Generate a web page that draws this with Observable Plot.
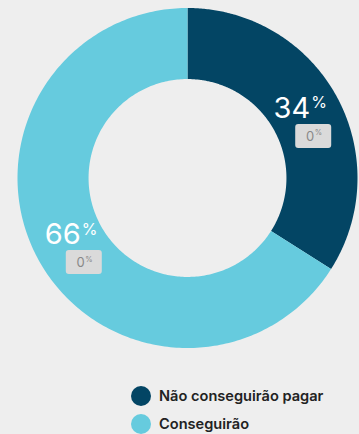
<!DOCTYPE html>
<html><head><meta charset="utf-8">
<script src="https://cdn.jsdelivr.net/npm/d3@7"></script>
<script src="https://cdn.jsdelivr.net/npm/@observablehq/plot@0.6"></script>
<style>
html,body{margin:0;padding:0;background:#eeeeee;}
body{width:359px;height:434px;overflow:hidden;font-family:Inter,Lato,sans-serif;position:relative;}
#chart{position:absolute;left:0;top:0;}
#legend{position:absolute;left:131px;top:382px;}
.item{display:flex;align-items:center;height:28px;font-weight:600;font-size:14.6px;color:#222;}
.sw{width:20px;height:20px;border-radius:50%;margin-right:8px;flex:none;}
</style></head><body><div id="chart"></div><div id="legend"></div>
<script>
const categories = ["Não conseguirão pagar", "Conseguirão"];
const values = [34, 66];
const badgeValues = [0, 0];
const colors = ["#034564", "#66cbde"];

const data = categories.map((c, i) => ({cat: c, value: values[i], badge: badgeValues[i]}));
const innerRatio = 0.582;
const labelRatio = 0.77;
const arcs = d3.pie().sort(null).value(d => d.value)(data);

const ring = arcs.flatMap(a => {
  const pts = [];
  const n = 240;
  for (let k = 0; k <= n; k++) {
    const t = a.startAngle + (a.endAngle - a.startAngle) * k / n;
    pts.push({cat: a.data.cat, x: Math.sin(t), y: Math.cos(t)});
  }
  for (let k = n; k >= 0; k--) {
    const t = a.startAngle + (a.endAngle - a.startAngle) * k / n;
    pts.push({cat: a.data.cat, x: innerRatio * Math.sin(t), y: innerRatio * Math.cos(t)});
  }
  return pts;
});

const labels = arcs.map(a => {
  const m = (a.startAngle + a.endAngle) / 2;
  return {cat: a.data.cat, x: labelRatio * Math.sin(m), y: labelRatio * Math.cos(m),
          num: String(a.data.value), badge: String(a.data.badge)};
});

const badgeSymbol = {
  draw(ctx) {
    const w = 36, h = 24, r = 3, x0 = -w / 2, y0 = -h / 2;
    ctx.moveTo(x0 + r, y0);
    ctx.lineTo(x0 + w - r, y0);
    ctx.arcTo(x0 + w, y0, x0 + w, y0 + r, r);
    ctx.lineTo(x0 + w, y0 + h - r);
    ctx.arcTo(x0 + w, y0 + h, x0 + w - r, y0 + h, r);
    ctx.lineTo(x0 + r, y0 + h);
    ctx.arcTo(x0, y0 + h, x0, y0 + h - r, r);
    ctx.lineTo(x0, y0 + r);
    ctx.arcTo(x0, y0, x0 + r, y0, r);
    ctx.closePath();
  }
};

const font = "Inter, Lato, sans-serif";
const chart = Plot.plot({
  width: 359,
  height: 360,
  marginLeft: 17,
  marginRight: 2,
  marginTop: 7.5,
  marginBottom: 12.5,
  style: {background: "transparent", fontFamily: font},
  x: {domain: [-1, 1], axis: null},
  y: {domain: [-1, 1], axis: null},
  color: {domain: categories, range: colors},
  marks: [
    Plot.line(ring, {x: "x", y: "y", z: "cat", fill: "cat", stroke: "none", curve: "linear-closed"}),
    Plot.text(labels, {x: "x", y: "y", text: "num", textAnchor: "end", lineAnchor: "bottom", dx: 8, dy: 3, fontSize: 29, fill: "white"}),
    Plot.text(labels, {x: "x", y: "y", text: () => "%", textAnchor: "start", lineAnchor: "bottom", dx: 9, dy: -6.5, fontSize: 16, fill: "white"}),
    Plot.dot(labels, {x: "x", y: "y", dx: 11, dy: 21, r: 1, symbol: badgeSymbol, fill: "#dadada", stroke: "none"}),
    Plot.text(labels, {x: "x", y: "y", text: "badge", textAnchor: "end", lineAnchor: "bottom", dx: 12, dy: 26, fontSize: 13, fill: "#888888"}),
    Plot.text(labels, {x: "x", y: "y", text: () => "%", textAnchor: "start", lineAnchor: "bottom", dx: 12.5, dy: 20.5, fontSize: 7.5, fill: "#888888"})
  ]
});
document.getElementById("chart").appendChild(chart);

const legend = document.getElementById("legend");
categories.forEach((c, i) => {
  const item = document.createElement("div");
  item.className = "item";
  const sw = document.createElement("span");
  sw.className = "sw";
  sw.style.background = colors[i];
  const t = document.createElement("span");
  t.textContent = c;
  item.appendChild(sw);
  item.appendChild(t);
  legend.appendChild(item);
});
</script>
</body></html>
